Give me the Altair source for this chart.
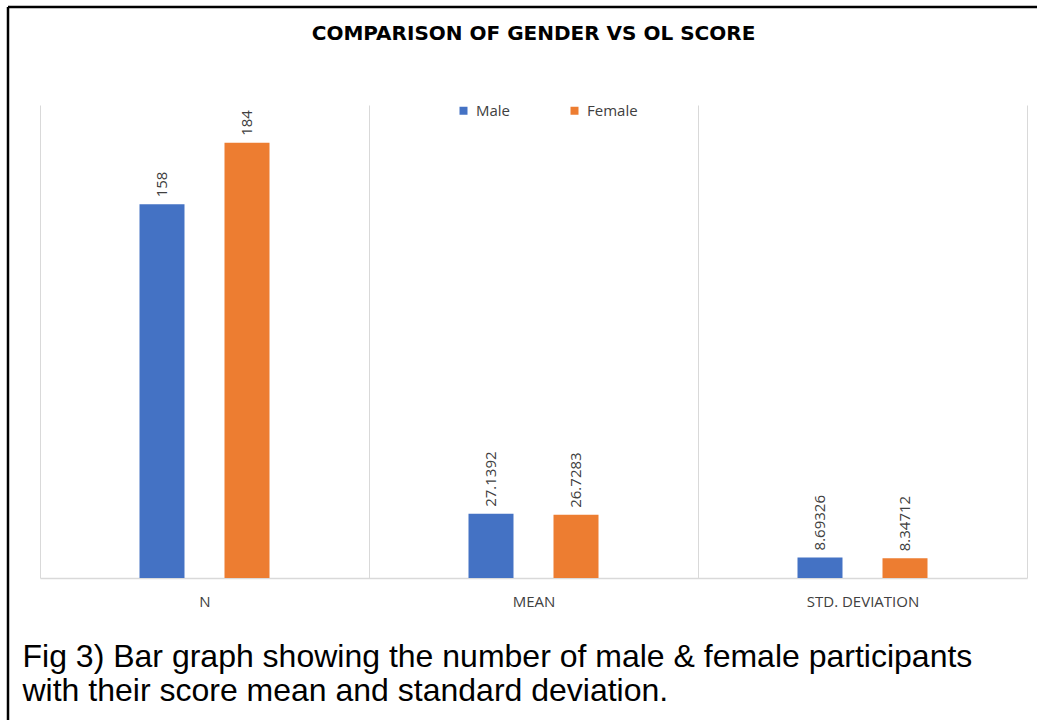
import altair as alt
import pandas as pd

# Summary statistics of OL score by gender
categories = ["N", "MEAN", "STD. DEVIATION"]
genders = ["Male", "Female"]
male_values = [158, 27.1392, 8.69326]
female_values = [184, 26.7283, 8.34712]
colors = ["#4472C4", "#ED7D31"]

caption = [
    "Fig 3) Bar graph showing the number of male & female participants",
    "with their score mean and standard deviation.",
]

rows = []
for cat, m, f in zip(categories, male_values, female_values):
    rows.append({"category": cat, "gender": "Male", "value": m})
    rows.append({"category": cat, "gender": "Female", "value": f})
df = pd.DataFrame(rows)

W, H = 987, 473
PAD_L, PAD_T = 40, 105

x_enc = alt.X(
    "category:N",
    sort=categories,
    scale=alt.Scale(paddingInner=0, paddingOuter=0),
    axis=alt.Axis(
        title=caption,
        titleAnchor="start",
        titleAlign="left",
        titleBaseline="alphabetic",
        titleX=-18,
        titleY=88,
        titleFont="Liberation Sans",
        titleFontSize=32,
        titleFontWeight="normal",
        titleColor="#000000",
        titleLineHeight=34,
        labelAngle=0,
        labelFont="Open Sans",
        labelFontSize=15,
        labelColor="#404040",
        labelPadding=16,
        ticks=False,
        grid=True,
        tickBand="extent",
        gridColor="#d9d9d9",
        gridWidth=1,
        domainColor="#d9d9d9",
        domainWidth=1.5,
    ),
)
# Two bars per category, 45px wide, centred 85px apart within each 329px band
xoff_enc = alt.XOffset(
    "gender:N",
    sort=genders,
    scale=alt.Scale(range=[99.5, 229.5], paddingInner=0.4706, paddingOuter=0),
)
y_enc = alt.Y("value:Q", scale=alt.Scale(domain=[0, 200]), axis=None)

base = alt.Chart(df)

bars = base.mark_bar().encode(
    x=x_enc,
    xOffset=xoff_enc,
    y=y_enc,
    color=alt.Color(
        "gender:N",
        sort=genders,
        scale=alt.Scale(domain=genders, range=colors),
        legend=alt.Legend(
            title=None,
            orient="none",
            direction="horizontal",
            legendX=416,
            legendY=-2,
            symbolType="square",
            symbolSize=64,
            symbolStrokeWidth=0,
            labelFont="Open Sans",
            labelFontSize=15,
            labelColor="#404040",
            labelOffset=5,
            columnPadding=56,
        ),
    ),
)

labels = base.mark_text(
    angle=270,
    align="left",
    baseline="middle",
    dx=7,
    font="Open Sans",
    fontSize=15,
    color="#404040",
).encode(
    x=alt.X("category:N", sort=categories),
    xOffset=alt.XOffset("gender:N", sort=genders),
    y=alt.Y("value:Q"),
    text=alt.Text("value:Q"),
)

# Frame lines along the left and top edges of the figure
edge = pd.DataFrame({"k": [0]})
left_edge = alt.Chart(edge).mark_rule(color="#000000", strokeWidth=2.5).encode(
    x=alt.value(8 - PAD_L), y=alt.value(7 - PAD_T), y2=alt.value(720 - PAD_T)
)
top_edge = alt.Chart(edge).mark_rule(color="#000000", strokeWidth=2.5).encode(
    x=alt.value(8 - PAD_L), x2=alt.value(1037 - PAD_L), y=alt.value(7 - PAD_T)
)

chart = (
    alt.layer(bars, labels, left_edge, top_edge)
    .properties(
        width=W,
        height=H,
        autosize=alt.AutoSizeParams(type="none"),
        padding={"left": PAD_L, "top": PAD_T, "right": 10, "bottom": 142},
        background="#ffffff",
        title=alt.TitleParams(
            "COMPARISON OF GENDER VS OL SCORE",
            anchor="middle",
            font="DejaVu Sans",
            fontSize=20,
            fontWeight="bold",
            color="#000000",
            offset=-38,
        ),
    )
    .configure_view(strokeWidth=0)
)

chart.save("out.html", embed_options={"renderer": "svg", "actions": False})
